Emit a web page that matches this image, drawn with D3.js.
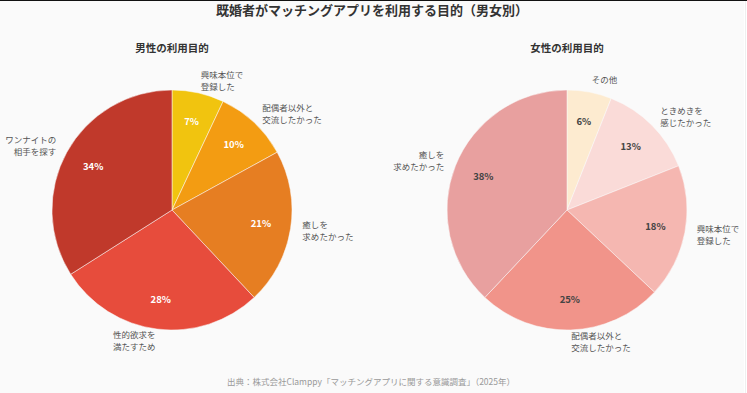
<!DOCTYPE html>
<html><head><meta charset="utf-8">
<script src="https://cdn.jsdelivr.net/npm/d3@7"></script>
<style>
html,body{margin:0;padding:0;background:#fff;}
svg{display:block;font-family:"Noto Sans CJK JP","Noto Sans",sans-serif;}
</style></head>
<body>
<svg id="c" width="747" height="393"></svg>
<script>
const title = "既婚者がマッチングアプリを利用する目的（男女別）";
const source = "出典：株式会社Clamppy「マッチングアプリに関する意識調査」（2025年）";

const maleTitle = "男性の利用目的";
const maleLabels = [["興味本位で","登録した"],["配偶者以外と","交流したかった"],["癒しを","求めたかった"],["性的欲求を","満たすため"],["ワンナイトの","相手を探す"]];
const maleValues = [7, 10, 21, 28, 34];
const maleColors = ["#f1c40f","#f39c12","#e67e22","#e74c3c","#c0392b"];

const femaleTitle = "女性の利用目的";
const femaleLabels = [["その他"],["ときめきを","感じたかった"],["興味本位で","登録した"],["配偶者以外と","交流したかった"],["癒しを","求めたかった"]];
const femaleValues = [6, 13, 18, 25, 38];
const femaleColors = ["#fdebd0","#fadbd8","#f5b7b1","#f1948a","#e8a09f"];

const svg = d3.select("#c");
svg.append("rect").attr("x",0).attr("y",0).attr("width",744).attr("height",393).attr("fill","#fafafa");
svg.append("rect").attr("x",745).attr("y",0).attr("width",0.6).attr("height",393).attr("fill","#e4e4e4");
svg.append("rect").attr("x",0).attr("y",0).attr("width",747).attr("height",1).attr("fill","#111");

svg.append("text").attr("x",372).attr("y",15).attr("text-anchor","middle")
  .attr("font-size",13).attr("font-weight","bold").attr("fill","#333").text(title);
svg.append("text").attr("x",371).attr("y",385).attr("text-anchor","middle")
  .attr("font-size",8.5).attr("fill","#999").text(source);

function drawPie(cx, cy, r, ttl, labels, values, colors, pctColor){
  const g = svg.append("g").attr("transform",`translate(${cx},${cy})`);
  svg.append("text").attr("x",cx).attr("y",52).attr("text-anchor","middle")
    .attr("font-size",10.5).attr("font-weight","bold").attr("fill","#333").text(ttl);
  const data = values.map((v,i)=>({v, label:labels[i], color:colors[i]}));
  const pie = d3.pie().value(d=>d.v).sort(null);
  const arc = d3.arc().innerRadius(0).outerRadius(r);
  const inArc = d3.arc().innerRadius(r*0.75).outerRadius(r*0.75);
  const outArc = d3.arc().innerRadius(r*1.1).outerRadius(r*1.1);
  const arcs = pie(data);
  g.selectAll("path.s").data(arcs).join("path").attr("class","s")
    .attr("d",arc).attr("fill",d=>d.data.color).attr("stroke","#fafafa").attr("stroke-width",0.5);
  g.selectAll("text.p").data(arcs).join("text").attr("class","p")
    .attr("transform",d=>`translate(${inArc.centroid(d)})`)
    .attr("text-anchor","middle").attr("dy","0.35em")
    .attr("font-size",9.5).attr("font-weight","bold").attr("fill",pctColor)
    .text(d=>d.data.v+"%");
  const lg = g.selectAll("text.l").data(arcs).join("text").attr("class","l")
    .attr("transform",d=>`translate(${outArc.centroid(d)})`)
    .attr("text-anchor",d=>((d.startAngle+d.endAngle)/2 > Math.PI) ? "end" : "start")
    .attr("font-size",8.5).attr("fill","#555");
  lg.each(function(d){
    const n = d.data.label.length;
    d3.select(this).selectAll("tspan").data(d.data.label).join("tspan")
      .attr("x",0).attr("y",(t,i)=> (i-(n-1)/2)*12).attr("dy","0.35em").text(t=>t);
  });
}
drawPie(172, 210, 120, maleTitle, maleLabels, maleValues, maleColors, "#fff");
drawPie(567, 210, 120, femaleTitle, femaleLabels, femaleValues, femaleColors, "#444");
</script>
</body></html>
